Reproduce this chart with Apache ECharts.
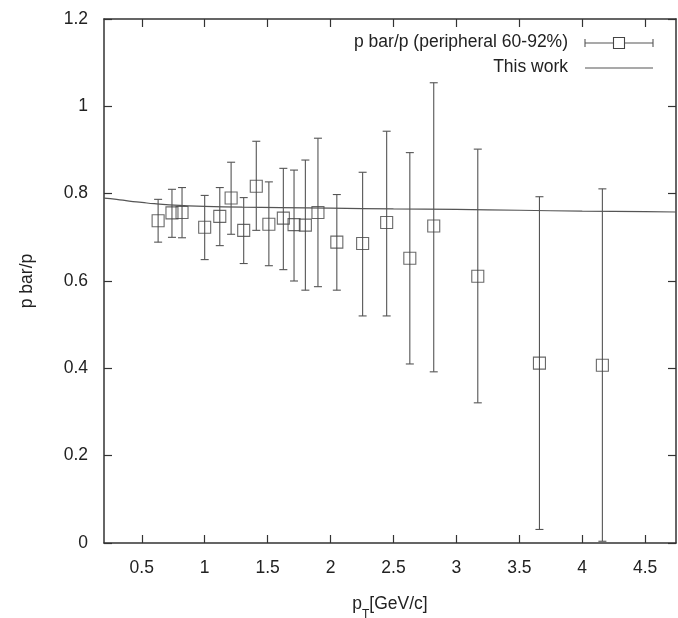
<!DOCTYPE html>
<html>
<head>
<meta charset="utf-8">
<script src="https://cdn.jsdelivr.net/npm/echarts@6/dist/echarts.min.js"></script>
<style>
html,body{margin:0;padding:0;background:#fff;}
#chart{width:678px;height:618px;}
</style>
</head>
<body>
<div id="chart"></div>
<script>
// ---- data ----
const pt      = [0.63, 0.74, 0.82, 1.00, 1.12, 1.21, 1.31, 1.41, 1.51, 1.625, 1.71, 1.80, 1.90, 2.05, 2.255, 2.446, 2.63, 2.82, 3.17, 3.66, 4.16];
const ratio   = [0.738, 0.756, 0.757, 0.723, 0.748, 0.790, 0.716, 0.817, 0.730, 0.744, 0.729, 0.728, 0.757, 0.689, 0.686, 0.734, 0.652, 0.726, 0.611, 0.412, 0.407];
const errHigh = [0.787, 0.810, 0.814, 0.796, 0.814, 0.872, 0.791, 0.920, 0.827, 0.858, 0.854, 0.877, 0.927, 0.798, 0.849, 0.943, 0.894, 1.054, 0.902, 0.793, 0.811];
const errLow  = [0.689, 0.700, 0.699, 0.649, 0.681, 0.707, 0.640, 0.716, 0.635, 0.626, 0.600, 0.579, 0.587, 0.579, 0.520, 0.520, 0.410, 0.392, 0.321, 0.031, 0.004];

const curveX = [0.2, 0.3, 0.4, 0.5, 0.6, 0.8, 1.0, 1.3, 1.6, 2.0, 2.5, 3.0, 3.5, 4.0, 4.5, 4.745];
const curveY = [0.790, 0.787, 0.783, 0.780, 0.777, 0.773, 0.771, 0.769, 0.768, 0.767, 0.765, 0.764, 0.762, 0.760, 0.759, 0.758];

const xTicks = [0.5, 1, 1.5, 2, 2.5, 3, 3.5, 4, 4.5];
const xTickLabels = ['0.5', '1', '1.5', '2', '2.5', '3', '3.5', '4', '4.5'];
const yTickLabels = ['0', '0.2', '0.4', '0.6', '0.8', '1', '1.2'];

const seriesName = 'p bar/p (peripheral 60-92%)';
const curveName = 'This work';
const xName = 'p_T[GeV/c]';
const yName = 'p bar/p';

// ---- chart ----
const FONT = "'Liberation Sans', Arial, Helvetica, sans-serif";
const TXT = '#222';
const AX = '#333';
const chart = echarts.init(document.getElementById('chart'), null, {renderer: 'canvas'});

const pointsData = pt.map((x, i) => [x, ratio[i]]);
const errData = pt.map((x, i) => [x, errLow[i], errHigh[i]]);
const curveData = curveX.map((x, i) => [x, curveY[i]]);

const axisCommon = {
  type: 'value',
  axisLine: {show: true, onZero: false, lineStyle: {color: AX, width: 1.5}},
  splitLine: {show: false}
};

const option = {
  backgroundColor: '#fff',
  animation: false,
  grid: {left: 104, right: 2, top: 19, bottom: 75, containLabel: false, outerBoundsMode: 'none'},
  xAxis: [
    Object.assign({}, axisCommon, {
      min: 0.2, max: 4.745, position: 'bottom',
      name: '{p|p}{s|T}{p|[GeV/c]}',
      nameLocation: 'middle', nameGap: 52,
      nameTextStyle: {
        rich: {
          p: {fontFamily: FONT, fontSize: 17.5, color: TXT},
          s: {fontFamily: FONT, fontSize: 12, color: TXT, verticalAlign: 'bottom', padding: [0, 0, -8, 0]}
        }
      },
      axisTick: {show: true, inside: true, length: 8, customValues: xTicks, lineStyle: {color: AX, width: 1.2}},
      axisLabel: {
        show: true, customValues: xTicks, margin: 16,
        fontFamily: FONT, fontSize: 17.5, color: TXT,
        formatter: v => xTickLabels[xTicks.indexOf(v)] ?? String(v)
      }
    }),
    Object.assign({}, axisCommon, {
      min: 0.2, max: 4.745, position: 'top',
      axisTick: {show: true, inside: true, length: 8, customValues: xTicks, lineStyle: {color: AX, width: 1.2}},
      axisLabel: {show: false}
    })
  ],
  yAxis: [
    Object.assign({}, axisCommon, {
      min: 0, max: 1.2, interval: 0.2, position: 'left',
      name: yName, nameLocation: 'middle', nameGap: 68, nameRotate: 90,
      nameTextStyle: {fontFamily: FONT, fontSize: 17.5, color: TXT},
      axisTick: {show: true, inside: true, length: 8, lineStyle: {color: AX, width: 1.2}},
      axisLabel: {
        show: true, margin: 16, fontFamily: FONT, fontSize: 17.5, color: TXT,
        formatter: v => yTickLabels[Math.round(v / 0.2)] ?? String(v)
      }
    }),
    Object.assign({}, axisCommon, {
      min: 0, max: 1.2, interval: 0.2, position: 'right',
      axisTick: {show: true, inside: true, length: 8, lineStyle: {color: AX, width: 1.2}},
      axisLabel: {show: false}
    })
  ],
  series: [
    {
      name: curveName, type: 'line', data: curveData, smooth: true,
      showSymbol: false, symbol: 'none', xAxisIndex: 0, yAxisIndex: 0,
      lineStyle: {color: '#555', width: 1.2}, z: 2
    },
    {
      name: seriesName + ' errors', type: 'custom', data: errData, xAxisIndex: 0, yAxisIndex: 0,
      renderItem: function (params, api) {
        const x = api.value(0), lo = api.value(1), hi = api.value(2);
        const pHi = api.coord([x, hi]);
        const pLo = api.coord([x, lo]);
        const cw = 4;
        const st = {stroke: '#555', lineWidth: 1.1};
        return {
          type: 'group',
          children: [
            {type: 'line', shape: {x1: pHi[0], y1: pHi[1], x2: pLo[0], y2: pLo[1]}, style: st},
            {type: 'line', shape: {x1: pHi[0] - cw, y1: pHi[1], x2: pHi[0] + cw, y2: pHi[1]}, style: st},
            {type: 'line', shape: {x1: pLo[0] - cw, y1: pLo[1], x2: pLo[0] + cw, y2: pLo[1]}, style: st}
          ]
        };
      },
      z: 3
    },
    {
      name: seriesName, type: 'scatter', data: pointsData, xAxisIndex: 0, yAxisIndex: 0,
      symbol: 'rect', symbolSize: 12,
      itemStyle: {color: 'rgba(255,255,255,0)', borderColor: '#444', borderWidth: 1.1},
      z: 4
    }
  ],
  graphic: [
    {type: 'text', right: 678 - 568, top: 33, style: {text: seriesName, font: '17.5px ' + FONT, fill: TXT, textAlign: 'right'}},
    {type: 'line', shape: {x1: 585, y1: 43, x2: 653, y2: 43}, style: {stroke: '#555', lineWidth: 1.1}},
    {type: 'line', shape: {x1: 585, y1: 39, x2: 585, y2: 47}, style: {stroke: '#555', lineWidth: 1.1}},
    {type: 'line', shape: {x1: 653, y1: 39, x2: 653, y2: 47}, style: {stroke: '#555', lineWidth: 1.1}},
    {type: 'rect', shape: {x: 613.5, y: 37.5, width: 11, height: 11}, style: {fill: '#fff', stroke: '#444', lineWidth: 1.1}},
    {type: 'text', right: 678 - 568, top: 58, style: {text: curveName, font: '17.5px ' + FONT, fill: TXT, textAlign: 'right'}},
    {type: 'line', shape: {x1: 585, y1: 68, x2: 653, y2: 68}, style: {stroke: '#555', lineWidth: 1.1}}
  ]
};
chart.setOption(option);
</script>
</body>
</html>
